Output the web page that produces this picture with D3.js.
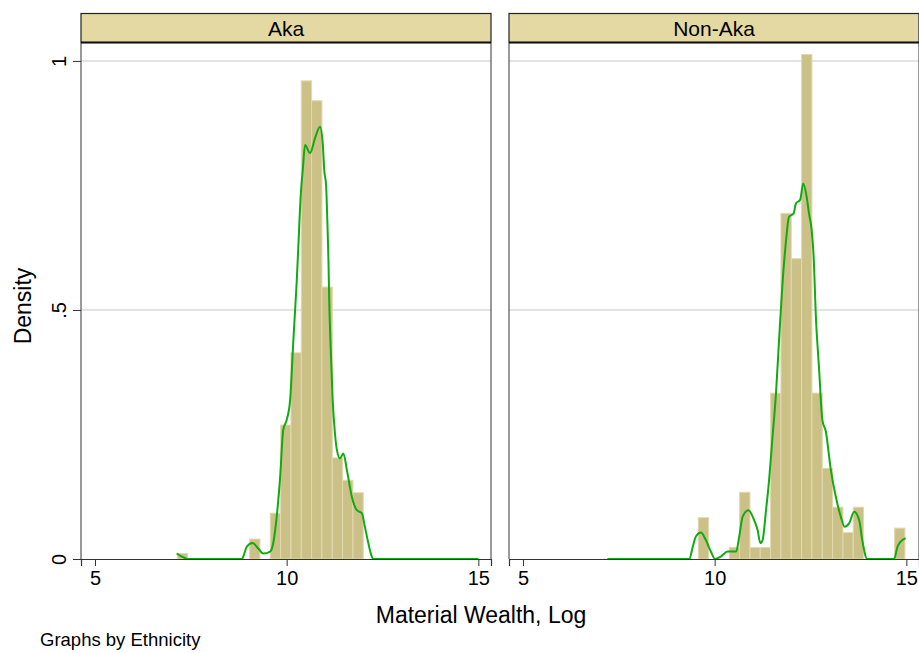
<!DOCTYPE html>
<html>
<head>
<meta charset="utf-8">
<script src="https://cdn.jsdelivr.net/npm/d3@7"></script>
<style>
  body { margin: 0; background: #fff; }
  svg { font-family: "Liberation Sans", Arial, sans-serif; }
</style>
</head>
<body>
<div id="chart"></div>
<script>
// common histogram bins (same grid for both groups)
const binStart = 7.147;
const binWidth = 0.2695;

const panelNames = ['Aka', 'Non-Aka'];

const akaDensity = [0.011, 0, 0, 0, 0, 0, 0, 0.04, 0, 0.092, 0.269, 0.414, 0.96, 0.92,
  0.546, 0.203, 0.158, 0.133, 0, 0, 0, 0, 0, 0, 0, 0, 0, 0, 0];
const nonAkaDensity = [0, 0, 0, 0, 0, 0, 0, 0, 0, 0.083, 0, 0, 0.0235, 0.134, 0.023, 0.023,
  0.333, 0.694, 0.603, 1.013, 0.333, 0.182, 0.104, 0.053, 0.104, 0, 0, 0, 0.062];

// kernel density curves
const akaCurveX = [7.13, 7.24, 7.43, 8.83, 8.87, 8.96, 9.11, 9.26, 9.39, 9.57, 9.65, 9.74,
  9.83, 9.91, 10.0, 10.09, 10.17, 10.22, 10.26, 10.3, 10.37, 10.42, 10.48, 10.61, 10.74,
  10.87, 10.94, 10.98, 11.03, 11.06, 11.09, 11.11, 11.15, 11.2, 11.26, 11.31, 11.39, 11.48,
  11.57, 11.7, 11.83, 11.96, 12.04, 12.13, 12.22, 12.26, 15.0];
const akaCurveY = [0.011, 0.006, 0, 0, 0.005, 0.025, 0.032, 0.021, 0.011, 0.015, 0.032, 0.085,
  0.165, 0.259, 0.279, 0.319, 0.433, 0.5, 0.554, 0.62, 0.734, 0.781, 0.831, 0.815, 0.845,
  0.868, 0.835, 0.781, 0.748, 0.681, 0.6, 0.52, 0.42, 0.319, 0.252, 0.219, 0.202, 0.212,
  0.179, 0.125, 0.098, 0.092, 0.065, 0.032, 0.005, 0, 0];

const nonAkaCurveX = [7.2, 9.34, 9.43, 9.51, 9.64, 9.77, 9.9, 10.01, 10.16, 10.34, 10.56,
  10.64, 10.73, 10.88, 11.03, 11.12, 11.19, 11.25, 11.34, 11.42, 11.51, 11.6, 11.68, 11.77,
  11.85, 11.94, 12.06, 12.12, 12.23, 12.31, 12.4, 12.46, 12.53, 12.58, 12.64, 12.72, 12.81,
  12.9, 13.03, 13.16, 13.29, 13.39, 13.51, 13.64, 13.77, 13.85, 13.98, 14.68, 14.77, 14.85, 14.98];
const nonAkaCurveY = [0, 0, 0.025, 0.045, 0.053, 0.038, 0.015, 0, 0.005, 0.015, 0.015,
  0.045, 0.085, 0.098, 0.078, 0.058, 0.032, 0.038, 0.098, 0.159, 0.246, 0.333, 0.44, 0.554,
  0.63, 0.687, 0.694, 0.714, 0.721, 0.754, 0.727, 0.694, 0.661, 0.61, 0.487, 0.386, 0.279,
  0.256, 0.179, 0.125, 0.085, 0.065, 0.072, 0.095, 0.078, 0.038, 0, 0, 0.025, 0.035, 0.042];

const xTicks = [5, 10, 15];
const yTicks = [0, 0.5, 1];
const yTickLabels = ['0', '.5', '1'];

const panels = [
  { name: panelNames[0], density: akaDensity, cx: akaCurveX, cy: akaCurveY, left: 81 },
  { name: panelNames[1], density: nonAkaDensity, cx: nonAkaCurveX, cy: nonAkaCurveY, left: 509 },
];

const W = 919, H = 653;
const panelW = 410;
const plotTop = 43, plotBottom = 559;
const fontFam = '"Liberation Sans", Arial, sans-serif';

const svg = d3.select('#chart').append('svg')
  .attr('width', W)
  .attr('height', H);

const x = d3.scaleLinear().domain([4.635, 15.33]).range([0, panelW]);
const y = d3.scaleLinear().domain([0, 1.036]).range([plotBottom - plotTop, 0]);

panels.forEach((p, pi) => {
  const g = svg.append('g').attr('transform', `translate(${p.left}, ${plotTop})`);

  // grid lines
  g.selectAll('.grid')
    .data(yTicks.filter(d => d > 0))
    .enter().append('line')
    .attr('x1', 0).attr('x2', panelW)
    .attr('y1', d => y(d)).attr('y2', d => y(d))
    .attr('stroke', '#dadada')
    .attr('stroke-width', 1.5);

  // histogram bars
  const bins = p.density.map((d, i) => ({ x0: binStart + i * binWidth, d }))
    .filter(b => b.d > 0);
  g.selectAll('.bar')
    .data(bins)
    .enter().append('rect')
    .attr('x', b => x(b.x0))
    .attr('y', b => y(b.d))
    .attr('width', x(binWidth) - x(0))
    .attr('height', b => y(0) - y(b.d))
    .attr('fill', '#cbc186')
    .attr('stroke', '#e0d9b0')
    .attr('stroke-width', 1);

  // kernel density
  const pts = p.cx.map((v, i) => [v, p.cy[i]]);
  const line = d3.line()
    .x(d => x(d[0]))
    .y(d => y(d[1]))
    .curve(d3.curveMonotoneX);
  g.append('path')
    .attr('d', line(pts))
    .attr('fill', 'none')
    .attr('stroke', '#12aa12')
    .attr('stroke-width', 2);

  // frame
  g.append('line').attr('x1', 0).attr('x2', 0).attr('y1', 0).attr('y2', y(0))
    .attr('stroke', '#555').attr('stroke-width', 1.2);
  g.append('line').attr('x1', panelW).attr('x2', panelW).attr('y1', 0).attr('y2', y(0))
    .attr('stroke', '#555').attr('stroke-width', 1.2);

  // x axis
  const xAxis = d3.axisBottom(x).tickValues(xTicks).tickSize(7).tickPadding(5)
    .tickFormat(d3.format('d'));
  const xa = g.append('g')
    .attr('transform', `translate(0, ${y(0)})`)
    .call(xAxis);
  xa.select('.domain').attr('stroke', '#333').attr('stroke-width', 1.2);
  xa.selectAll('.tick line').attr('stroke', '#333');
  xa.selectAll('text').attr('font-size', 20).attr('fill', '#000')
    .attr('font-family', fontFam);

  // y axis on first panel only
  if (pi === 0) {
    const yAxis = d3.axisLeft(y).tickValues(yTicks).tickSize(8).tickFormat((d, i) => yTickLabels[i]);
    const ya = g.append('g').call(yAxis);
    ya.select('.domain').remove();
    ya.selectAll('.tick line').attr('stroke', '#333');
    ya.selectAll('text')
      .attr('font-size', 20).attr('fill', '#000')
      .attr('font-family', fontFam)
      .attr('text-anchor', 'middle')
      .attr('x', 0).attr('dy', 0)
      .attr('transform', 'translate(-15, 0) rotate(-90)');
  }

  // header strip
  svg.append('rect')
    .attr('x', p.left).attr('y', 13.5)
    .attr('width', panelW).attr('height', plotTop - 14)
    .attr('fill', '#e5d9a3')
    .attr('stroke', '#222').attr('stroke-width', 1.2);
  svg.append('line')
    .attr('x1', p.left).attr('x2', p.left + panelW)
    .attr('y1', plotTop - 0.5).attr('y2', plotTop - 0.5)
    .attr('stroke', '#111').attr('stroke-width', 2);
  svg.append('text')
    .attr('x', p.left + panelW / 2).attr('y', 36)
    .attr('text-anchor', 'middle')
    .attr('font-size', 21)
    .text(p.name);
});

svg.append('text')
  .attr('transform', 'translate(31, 306) rotate(-90)')
  .attr('text-anchor', 'middle')
  .attr('font-size', 23)
  .text('Density');

svg.append('text')
  .attr('x', 481).attr('y', 623)
  .attr('text-anchor', 'middle')
  .attr('font-size', 23)
  .text('Material Wealth, Log');

svg.append('text')
  .attr('x', 40).attr('y', 646)
  .attr('font-size', 18.5)
  .text('Graphs by Ethnicity');
</script>
</body>
</html>
